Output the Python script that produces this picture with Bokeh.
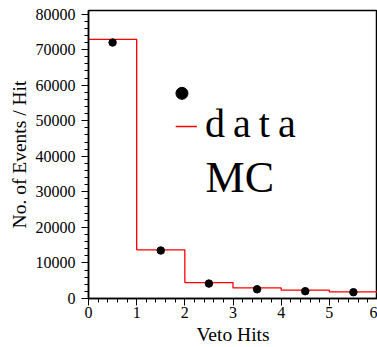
from bokeh.plotting import figure
from bokeh.models import SingleIntervalTicker, Label, Range1d
from bokeh.embed import file_html
from bokeh.resources import INLINE

# Veto hit multiplicity: bin edges, measured data and Monte Carlo expectation
bin_edges = [0, 1, 2, 3, 4, 5, 6]
bin_centers = [0.5, 1.5, 2.5, 3.5, 4.5, 5.5]
data_counts = [72000, 13500, 4200, 2600, 2050, 1770]
mc_counts = [72900, 13700, 4490, 2980, 2330, 1850]

x_ticks_interval = 1
y_ticks_interval = 10000

SERIF = "Liberation Serif"

p = figure(
    width=377, height=347,
    output_backend="svg", toolbar_location=None,
    x_range=Range1d(0, 6), y_range=Range1d(0, 81000),
    min_border_left=88, min_border_right=0,
    min_border_top=10, min_border_bottom=49,
)
p.background_fill_color = "white"
p.border_fill_color = "white"
p.outline_line_color = "black"
p.outline_line_width = 1.5
p.grid.visible = False

# MC histogram as a step outline
p.step(x=bin_edges, y=mc_counts + [mc_counts[-1]], mode="after",
       line_color="red", line_width=1.3)

# measured data points
p.scatter(x=bin_centers, y=data_counts, size=7.5, color="black")

# axes
for ax in (p.xaxis[0], p.yaxis[0]):
    ax.axis_line_color = "black"
    ax.axis_line_width = 1.5
    ax.major_tick_line_color = "black"
    ax.minor_tick_line_color = "black"
    ax.major_tick_in = 0
    ax.major_tick_out = 7
    ax.minor_tick_in = 0
    ax.minor_tick_out = 4
    ax.major_label_text_font = SERIF
    ax.major_label_text_font_size = "16px"
    ax.major_label_text_color = "black"
    ax.axis_label_text_font = SERIF
    ax.axis_label_text_font_size = "19.5px"
    ax.axis_label_text_font_style = "normal"
    ax.axis_label_text_color = "black"

p.xaxis.ticker = SingleIntervalTicker(interval=x_ticks_interval, num_minor_ticks=5)
p.yaxis.ticker = SingleIntervalTicker(interval=y_ticks_interval, num_minor_ticks=5)
p.xaxis.axis_label = "Veto Hits"
p.yaxis.axis_label = "No. of Events / Hit"
p.xaxis.major_label_standoff = 1
p.xaxis.axis_label_standoff = 3
p.yaxis.major_label_standoff = 6
p.yaxis.axis_label_standoff = 3

# legend keys and labels
p.scatter(x=[1.94], y=[57700], size=12, color="black")
p.segment(x0=[1.81], y0=[48400], x1=[2.25], y1=[48400], line_color="red", line_width=1.5)
p.add_layout(Label(x=2.42, y=49240, text="d\u2009a\u2009t\u2009a", text_font=SERIF,
                   text_font_size="40px", text_color="black", text_baseline="alphabetic"))
p.add_layout(Label(x=2.43, y=34070, text="MC", text_font=SERIF,
                   text_font_size="44px", text_color="black", text_baseline="alphabetic"))

open("out.html", "w").write(file_html(p, INLINE))
